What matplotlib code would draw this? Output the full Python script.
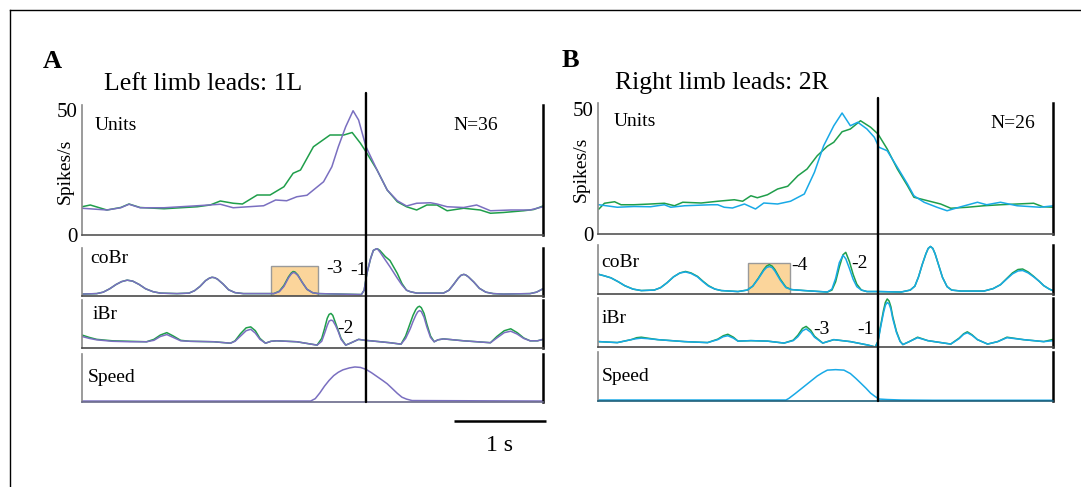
"""Two-panel peri-event chart: unit firing, coBr / iBr bursts and speed,
aligned on the limb-lead event (t = 0), left limb (A) vs right limb (B)."""

import matplotlib
matplotlib.use("Agg")

import matplotlib.pyplot as plt  # noqa: E402
from matplotlib.lines import Line2D  # noqa: E402
from matplotlib.patches import ConnectionPatch, Rectangle  # noqa: E402

plt.rcParams["font.family"] = ["Liberation Serif", "DejaVu Serif"]

W, H = 1081, 487  # output size in px (dpi 100)

GREEN = "#1f9e4a"
PURPLE = "#7a6fc0"
BLUE = "#18a9e6"
BOX = "#fbd59b"

# ---------------------------------------------------------------- panel A
# Units (spikes/s), time in s relative to the event
tA_u_green = [-3.08, -2.99, -2.81, -2.66, -2.57, -2.45, -2.19, -1.83, -1.69, -1.58,
              -1.44, -1.34, -1.18, -1.04, -0.89, -0.79, -0.71, -0.57, -0.39, -0.24,
              -0.15, -0.06, 0.0, 0.12, 0.23, 0.34, 0.44, 0.55, 0.66, 0.77,
              0.88, 1.06, 1.24, 1.35, 1.49, 1.71, 1.82, 1.92]
uA_green = [11.3, 12.0, 10.0, 11.0, 12.4, 11.0, 10.5, 11.3, 12.0, 13.6,
            12.7, 12.4, 16.0, 16.0, 19.3, 24.7, 26.0, 35.3, 40.0, 40.0,
            41.0, 36.7, 33.3, 26.0, 18.0, 13.3, 11.3, 10.0, 12.0, 12.0,
            9.7, 10.7, 10.0, 8.7, 9.0, 9.7, 10.2, 11.6]
tA_u_purple = [-3.08, -2.81, -2.66, -2.57, -2.45, -2.19, -1.83, -1.58, -1.44, -1.11,
               -0.98, -0.86, -0.75, -0.64, -0.57, -0.46, -0.37, -0.30, -0.22, -0.14,
               -0.08, 0.0, 0.12, 0.23, 0.34, 0.44, 0.55, 0.70, 0.77, 0.88,
               1.06, 1.20, 1.35, 1.57, 1.78, 1.92]
uA_purple = [10.7, 10.0, 10.9, 12.3, 10.9, 10.9, 11.7, 12.3, 10.9, 11.7,
             14.0, 13.7, 15.3, 15.9, 18.0, 21.3, 27.3, 35.3, 43.3, 49.7,
             46.0, 35.3, 26.0, 18.0, 13.7, 11.6, 12.7, 12.9, 12.4, 11.3,
             11.0, 12.0, 9.7, 10.0, 10.0, 11.3]

# coBr (normalised)
tA_co = [-3.08, -2.92, -2.85, -2.78, -2.71, -2.65, -2.59, -2.53, -2.46, -2.39,
         -2.31, -2.23, -2.05, -1.92, -1.86, -1.80, -1.74, -1.70, -1.67, -1.64,
         -1.61, -1.55, -1.49, -1.42, -1.33, -1.00, -0.94, -0.89, -0.84, -0.81,
         -0.79, -0.77, -0.74, -0.69, -0.64, -0.58, -0.52, -0.05, -0.02, 0.01,
         0.05, 0.08, 0.12, 0.15, 0.21, 0.26, 0.34, 0.39, 0.44, 0.48,
         0.55, 0.84, 0.90, 0.95, 1.00, 1.03, 1.06, 1.08, 1.11, 1.17,
         1.23, 1.30, 1.38, 1.49, 1.78, 1.85, 1.92]
coA_green = [0.04, 0.05, 0.08, 0.15, 0.24, 0.30, 0.33, 0.31, 0.24, 0.15,
             0.09, 0.06, 0.05, 0.06, 0.11, 0.20, 0.32, 0.37, 0.39, 0.38,
             0.35, 0.25, 0.13, 0.07, 0.05, 0.05, 0.10, 0.22, 0.40, 0.48,
             0.51, 0.50, 0.44, 0.28, 0.14, 0.07, 0.05, 0.03, 0.12, 0.47,
             0.78, 0.95, 0.99, 0.95, 0.82, 0.74, 0.47, 0.26, 0.12, 0.09,
             0.06, 0.06, 0.12, 0.24, 0.37, 0.43, 0.45, 0.44, 0.40, 0.29,
             0.16, 0.08, 0.05, 0.04, 0.05, 0.08, 0.15]
coA_purple = [0.04, 0.05, 0.08, 0.15, 0.24, 0.30, 0.33, 0.31, 0.24, 0.15,
              0.09, 0.06, 0.05, 0.06, 0.11, 0.20, 0.32, 0.37, 0.39, 0.38,
              0.35, 0.25, 0.13, 0.07, 0.05, 0.05, 0.09, 0.20, 0.38, 0.46,
              0.49, 0.48, 0.43, 0.28, 0.14, 0.07, 0.05, 0.03, 0.12, 0.47,
              0.78, 0.95, 0.99, 0.92, 0.75, 0.61, 0.37, 0.23, 0.12, 0.09,
              0.06, 0.06, 0.12, 0.24, 0.37, 0.43, 0.45, 0.44, 0.40, 0.29,
              0.16, 0.08, 0.05, 0.04, 0.05, 0.08, 0.15]

# iBr (normalised)
tA_i = [-3.08, -3.00, -2.92, -2.75, -2.56, -2.38, -2.30, -2.23, -2.16, -2.09,
        -2.01, -1.91, -1.65, -1.47, -1.42, -1.36, -1.30, -1.25, -1.20, -1.15,
        -1.09, -1.03, -0.97, -0.75, -0.53, -0.48, -0.45, -0.42, -0.40, -0.38,
        -0.36, -0.33, -0.30, -0.27, -0.22, -0.17, -0.08, -0.01, 0.05, 0.26,
        0.38, 0.43, 0.48, 0.51, 0.54, 0.56, 0.58, 0.60, 0.63, 0.66,
        0.70, 0.74, 0.78, 0.84, 1.06, 1.35, 1.42, 1.50, 1.57, 1.64,
        1.71, 1.78, 1.86, 1.92]
iA_green = [0.27, 0.22, 0.18, 0.15, 0.14, 0.13, 0.18, 0.27, 0.32, 0.25,
            0.16, 0.14, 0.13, 0.10, 0.15, 0.30, 0.42, 0.44, 0.36, 0.20,
            0.10, 0.14, 0.15, 0.13, 0.06, 0.20, 0.40, 0.62, 0.70, 0.72,
            0.68, 0.52, 0.36, 0.20, 0.06, 0.10, 0.18, 0.16, 0.15, 0.11,
            0.08, 0.25, 0.52, 0.68, 0.80, 0.85, 0.87, 0.84, 0.72, 0.50,
            0.25, 0.13, 0.17, 0.19, 0.15, 0.11, 0.24, 0.36, 0.40, 0.32,
            0.21, 0.15, 0.15, 0.18]
iA_purple = [0.24, 0.20, 0.17, 0.14, 0.13, 0.13, 0.16, 0.24, 0.28, 0.22,
             0.15, 0.14, 0.13, 0.10, 0.14, 0.25, 0.36, 0.39, 0.31, 0.18,
             0.10, 0.14, 0.15, 0.13, 0.06, 0.14, 0.30, 0.47, 0.56, 0.58,
             0.57, 0.47, 0.34, 0.18, 0.06, 0.10, 0.18, 0.16, 0.15, 0.11,
             0.08, 0.20, 0.40, 0.55, 0.68, 0.75, 0.78, 0.76, 0.64, 0.44,
             0.22, 0.13, 0.17, 0.19, 0.15, 0.11, 0.21, 0.32, 0.35, 0.29,
             0.20, 0.15, 0.15, 0.18]

# Speed (normalised)
tA_s = [-3.08, -0.60, -0.55, -0.50, -0.45, -0.40, -0.35, -0.30, -0.25, -0.18,
        -0.12, -0.06, 0.0, 0.06, 0.12, 0.18, 0.23, 0.28, 0.34, 0.39,
        0.44, 0.50, 1.92]
sA = [0.02, 0.02, 0.07, 0.19, 0.33, 0.45, 0.55, 0.62, 0.67, 0.71,
      0.73, 0.72, 0.68, 0.61, 0.53, 0.45, 0.38, 0.29, 0.18, 0.10,
      0.06, 0.03, 0.02]

# ---------------------------------------------------------------- panel B
tB_u_green = [-3.03, -2.97, -2.86, -2.79, -2.65, -2.47, -2.32, -2.21, -2.12, -1.92,
              -1.74, -1.56, -1.47, -1.38, -1.31, -1.20, -1.09, -0.98, -0.87, -0.77,
              -0.66, -0.55, -0.48, -0.39, -0.30, -0.19, -0.08, 0.0, 0.10, 0.21,
              0.32, 0.39, 0.54, 0.68, 0.79, 0.97, 1.15, 1.33, 1.51, 1.69,
              1.79, 1.91]
uB_green = [10.0, 12.3, 12.9, 11.7, 11.7, 12.0, 12.3, 11.3, 12.7, 12.4,
            13.1, 13.7, 13.1, 15.3, 14.5, 15.7, 18.0, 19.1, 23.3, 26.0,
            31.3, 35.1, 36.7, 40.9, 42.0, 45.3, 42.7, 40.0, 34.0, 26.0,
            19.3, 14.7, 13.3, 12.0, 10.3, 10.7, 11.3, 11.7, 12.0, 12.3,
            10.9, 10.7]
tB_u_blue = [-3.03, -2.83, -2.65, -2.47, -2.32, -2.25, -2.10, -1.81, -1.74, -1.67,
             -1.58, -1.45, -1.33, -1.24, -1.09, -0.95, -0.80, -0.69, -0.59, -0.48,
             -0.39, -0.30, -0.22, -0.12, -0.04, 0.01, 0.10, 0.21, 0.32, 0.39,
             0.50, 0.64, 0.75, 0.90, 1.08, 1.18, 1.33, 1.51, 1.76, 1.91]
uB_blue = [11.7, 10.7, 11.0, 10.9, 11.7, 10.7, 11.3, 11.7, 11.7, 10.7,
           10.4, 12.0, 10.0, 12.4, 12.0, 13.1, 16.0, 24.7, 35.3, 43.3,
           48.4, 43.3, 44.7, 42.0, 38.7, 34.7, 33.3, 26.7, 20.0, 15.3,
           12.7, 10.7, 9.3, 10.9, 12.7, 11.7, 12.7, 11.3, 10.7, 11.3]

tB_co = [-3.03, -2.97, -2.90, -2.82, -2.75, -2.66, -2.57, -2.43, -2.36, -2.29,
         -2.22, -2.15, -2.09, -2.03, -1.96, -1.90, -1.84, -1.77, -1.70, -1.52,
         -1.42, -1.36, -1.30, -1.24, -1.21, -1.18, -1.15, -1.12, -1.06, -1.00,
         -0.94, -0.80, -0.55, -0.50, -0.46, -0.42, -0.38, -0.35, -0.31, -0.27,
         -0.23, -0.18, -0.12, 0.00, 0.25, 0.35, 0.40, 0.44, 0.48, 0.52,
         0.545, 0.57, 0.595, 0.62, 0.66, 0.70, 0.75, 0.80, 0.90, 1.15,
         1.25, 1.33, 1.40, 1.46, 1.52, 1.57, 1.63, 1.69, 1.75, 1.80,
         1.86, 1.91]
coB_green = [0.40, 0.37, 0.33, 0.25, 0.17, 0.10, 0.07, 0.08, 0.13, 0.23,
             0.35, 0.43, 0.46, 0.43, 0.36, 0.26, 0.17, 0.10, 0.07, 0.05,
             0.08, 0.16, 0.32, 0.50, 0.57, 0.60, 0.57, 0.50, 0.30, 0.14,
             0.09, 0.07, 0.04, 0.08, 0.25, 0.55, 0.80, 0.85, 0.66, 0.40,
             0.20, 0.08, 0.05, 0.05, 0.04, 0.08, 0.16, 0.35, 0.60, 0.82,
             0.93, 0.97, 0.93, 0.82, 0.58, 0.34, 0.15, 0.08, 0.06, 0.06,
             0.11, 0.19, 0.32, 0.43, 0.50, 0.51, 0.45, 0.36, 0.26, 0.17,
             0.10, 0.06]
coB_blue = [0.40, 0.37, 0.33, 0.25, 0.17, 0.10, 0.07, 0.08, 0.13, 0.23,
            0.35, 0.43, 0.45, 0.42, 0.35, 0.25, 0.16, 0.10, 0.07, 0.05,
            0.08, 0.16, 0.31, 0.48, 0.54, 0.56, 0.54, 0.47, 0.28, 0.13,
            0.09, 0.07, 0.04, 0.10, 0.32, 0.64, 0.79, 0.72, 0.52, 0.30,
            0.15, 0.08, 0.05, 0.05, 0.04, 0.08, 0.16, 0.35, 0.60, 0.82,
            0.93, 0.97, 0.93, 0.82, 0.58, 0.34, 0.15, 0.08, 0.06, 0.06,
            0.11, 0.19, 0.31, 0.41, 0.47, 0.48, 0.43, 0.35, 0.26, 0.17,
            0.10, 0.06]

tB_i = [-3.03, -2.83, -2.68, -2.62, -2.57, -2.50, -2.39, -2.10, -1.85, -1.74,
        -1.68, -1.63, -1.57, -1.52, -1.38, -1.20, -1.02, -0.92, -0.87, -0.82,
        -0.78, -0.73, -0.69, -0.60, -0.48, -0.30, -0.11, -0.03, 0.00, 0.03,
        0.06, 0.08, 0.10, 0.12, 0.14, 0.16, 0.20, 0.24, 0.27, 0.34,
        0.43, 0.54, 0.79, 0.88, 0.93, 0.97, 1.02, 1.08, 1.19, 1.30,
        1.40, 1.58, 1.80, 1.91]
iB_green = [0.11, 0.09, 0.15, 0.19, 0.20, 0.18, 0.15, 0.11, 0.09, 0.16,
            0.23, 0.26, 0.20, 0.12, 0.13, 0.12, 0.08, 0.14, 0.24, 0.38,
            0.42, 0.34, 0.22, 0.08, 0.15, 0.11, 0.04, 0.00, 0.12, 0.45,
            0.75, 0.91, 0.98, 0.94, 0.82, 0.62, 0.32, 0.12, 0.05, 0.11,
            0.20, 0.13, 0.06, 0.18, 0.27, 0.31, 0.25, 0.15, 0.06, 0.11,
            0.20, 0.15, 0.11, 0.16]
iB_blue = [0.11, 0.09, 0.15, 0.17, 0.18, 0.17, 0.15, 0.11, 0.09, 0.15,
           0.21, 0.23, 0.18, 0.12, 0.13, 0.12, 0.08, 0.13, 0.21, 0.33,
           0.37, 0.30, 0.20, 0.08, 0.15, 0.11, 0.04, 0.00, 0.11, 0.42,
           0.70, 0.85, 0.91, 0.88, 0.77, 0.58, 0.30, 0.11, 0.05, 0.11,
           0.19, 0.13, 0.06, 0.17, 0.26, 0.29, 0.24, 0.15, 0.06, 0.11,
           0.19, 0.15, 0.11, 0.13]

tB_s = [-3.03, -1.00, -0.97, -0.90, -0.80, -0.72, -0.66, -0.60, -0.55, -0.46,
        -0.37, -0.30, -0.24, -0.19, -0.13, -0.08, -0.03, 0.01, 0.10, 0.25,
        0.60, 1.91]
sB = [0.02, 0.02, 0.05, 0.15, 0.30, 0.42, 0.51, 0.58, 0.63, 0.64,
      0.63, 0.56, 0.46, 0.37, 0.26, 0.16, 0.09, 0.04, 0.03, 0.02,
      0.015, 0.015]


def px_axes(fig, x0, y0, x1, y1):
    """Axes from pixel box (left, top, right, bottom)."""
    return fig.add_axes([x0 / W, 1 - y1 / H, (x1 - x0) / W, (y1 - y0) / H])


def style(ax, xlim, ylim, bottom="#4a4a4a"):
    ax.set_xlim(xlim)
    ax.set_ylim(ylim)
    ax.patch.set_alpha(0)
    ax.spines["top"].set_visible(False)
    ax.spines["left"].set_color("#8a8a8a")
    ax.spines["left"].set_linewidth(1.2)
    ax.spines["bottom"].set_color(bottom)
    ax.spines["bottom"].set_linewidth(1.2)
    ax.spines["right"].set_color("black")
    ax.spines["right"].set_linewidth(1.8)
    ax.set_xticks([])
    ax.set_yticks([])


def units_axis(ax):
    ax.set_yticks([0, 50])
    ax.set_yticklabels(["0", "50"], fontsize=15)
    ax.tick_params(axis="y", length=0, pad=3)
    ax.text(-0.037, 0.49, "Spikes/s", transform=ax.transAxes, rotation=90,
            fontsize=14, ha="center", va="center")


fig = plt.figure(figsize=(W / 100, H / 100), dpi=100)

# frame lines (top and left)
fig.add_artist(Line2D([10 / W, 1], [1 - 10 / H, 1 - 10 / H], color="black",
                      lw=1.0, transform=fig.transFigure))
fig.add_artist(Line2D([10 / W, 10 / W], [0, 1 - 10 / H], color="black",
                      lw=1.0, transform=fig.transFigure))

panels = [
    dict(letter="A", title="Left limb leads: 1L", n="N=36", col=PURPLE,
         x0=82, x1=543, xlim=(-3.08, 1.92),
         rows=[(105, 235), (248, 296), (300, 348), (354, 402)],
         uylim=(0, 52), top=56.8, letter_xy=(43, 68), title_xy=(104, 89.5),
         tu_g=tA_u_green, u_g=uA_green, tu_c=tA_u_purple, u_c=uA_purple,
         tco=tA_co, co_g=coA_green, co_c=coA_purple,
         ti=tA_i, i_g=iA_green, i_c=iA_purple, ts=tA_s, s=sA,
         box=(-1.03, -0.52, 0.62),
         co_marks=[("-3", -0.43, 0.58), ("-1", -0.17, 0.54)],
         i_marks=[("-2", -0.31, 0.40)],
         lab_pos=[(0.028, 0.846), (0.017, 0.79), (0.022, 0.69), (0.013, 0.52)],
         n_x=0.902, speed_bottom="#6a6a8a"),
    dict(letter="B", title="Right limb leads: 2R", n="N=26", col=BLUE,
         x0=598, x1=1053, xlim=(-3.04, 1.90),
         rows=[(103, 234), (245, 294), (298, 347), (352, 401)],
         uylim=(0, 52.4), top=54.4, letter_xy=(562, 67), title_xy=(615, 88.5),
         tu_g=tB_u_green, u_g=uB_green, tu_c=tB_u_blue, u_c=uB_blue,
         tco=tB_co, co_g=coB_green, co_c=coB_blue,
         ti=tB_i, i_g=iB_green, i_c=iB_blue, ts=tB_s, s=sB,
         box=(-1.41, -0.96, 0.64),
         co_marks=[("-4", -0.94, 0.59), ("-2", -0.29, 0.63)],
         i_marks=[("-3", -0.70, 0.35), ("-1", -0.23, 0.35)],
         lab_pos=[(0.034, 0.857), (0.007, 0.65), (0.009, 0.59), (0.009, 0.49)],
         n_x=0.96, speed_bottom="#1d5d78"),
]

for p in panels:
    fig.text(p["letter_xy"][0] / W, 1 - p["letter_xy"][1] / H, p["letter"],
             fontsize=19, fontweight="bold", va="baseline")
    fig.text(p["title_xy"][0] / W, 1 - p["title_xy"][1] / H, p["title"],
             fontsize=18.5, va="baseline")

    axs = [px_axes(fig, p["x0"], top, p["x1"], bot) for top, bot in p["rows"]]
    ax_u, ax_co, ax_i, ax_s = axs

    style(ax_u, p["xlim"], p["uylim"], bottom="#555555")
    units_axis(ax_u)
    style(ax_co, p["xlim"], (0, 1))
    style(ax_i, p["xlim"], (0, 1))
    style(ax_s, p["xlim"], (0, 1), bottom=p["speed_bottom"])

    lw = 1.1
    ax_u.plot(p["tu_g"], p["u_g"], color=GREEN, lw=lw)
    ax_u.plot(p["tu_c"], p["u_c"], color=p["col"], lw=lw)

    b0, b1, bh = p["box"]
    ax_co.add_patch(Rectangle((b0, 0), b1 - b0, bh, facecolor=BOX,
                              edgecolor="#9a9a9a", lw=1.0, zorder=0.5))
    ax_co.plot(p["tco"], p["co_g"], color=GREEN, lw=lw)
    ax_co.plot(p["tco"], p["co_c"], color=p["col"], lw=lw)
    ax_i.plot(p["ti"], p["i_g"], color=GREEN, lw=lw)
    ax_i.plot(p["ti"], p["i_c"], color=p["col"], lw=lw)
    ax_s.plot(p["ts"], p["s"], color=p["col"], lw=lw)

    labels = ["Units", "coBr", "iBr", "Speed"]
    for ax, lab, (lx, ly) in zip(axs, labels, p["lab_pos"]):
        ax.text(lx, ly, lab, transform=ax.transAxes, fontsize=14,
                ha="left", va="center")
    ax_u.text(p["n_x"], 0.846, p["n"], transform=ax_u.transAxes, fontsize=14,
              ha="right", va="center")
    for txt, tx, ty in p["co_marks"]:
        ax_co.text(tx, ty, txt, fontsize=14, ha="left", va="center")
    for txt, tx, ty in p["i_marks"]:
        ax_i.text(tx, ty, txt, fontsize=14, ha="left", va="center")

    # event line at t = 0 spanning all four rows
    con = ConnectionPatch(xyA=(0, p["top"]), coordsA=ax_u.transData,
                          xyB=(0, 0), coordsB=ax_s.transData,
                          color="black", lw=1.7)
    fig.add_artist(con)

    if p["letter"] == "A":
        # 1 s scale bar under the speed trace
        ax_s.plot([0.95, 1.95], [-0.40, -0.40], color="black", lw=1.8,
                  clip_on=False, solid_capstyle="butt")
        ax_s.text(1.45, -0.90, "1 s", fontsize=17, ha="center", va="center")

fig.savefig("out.png", dpi=100)
